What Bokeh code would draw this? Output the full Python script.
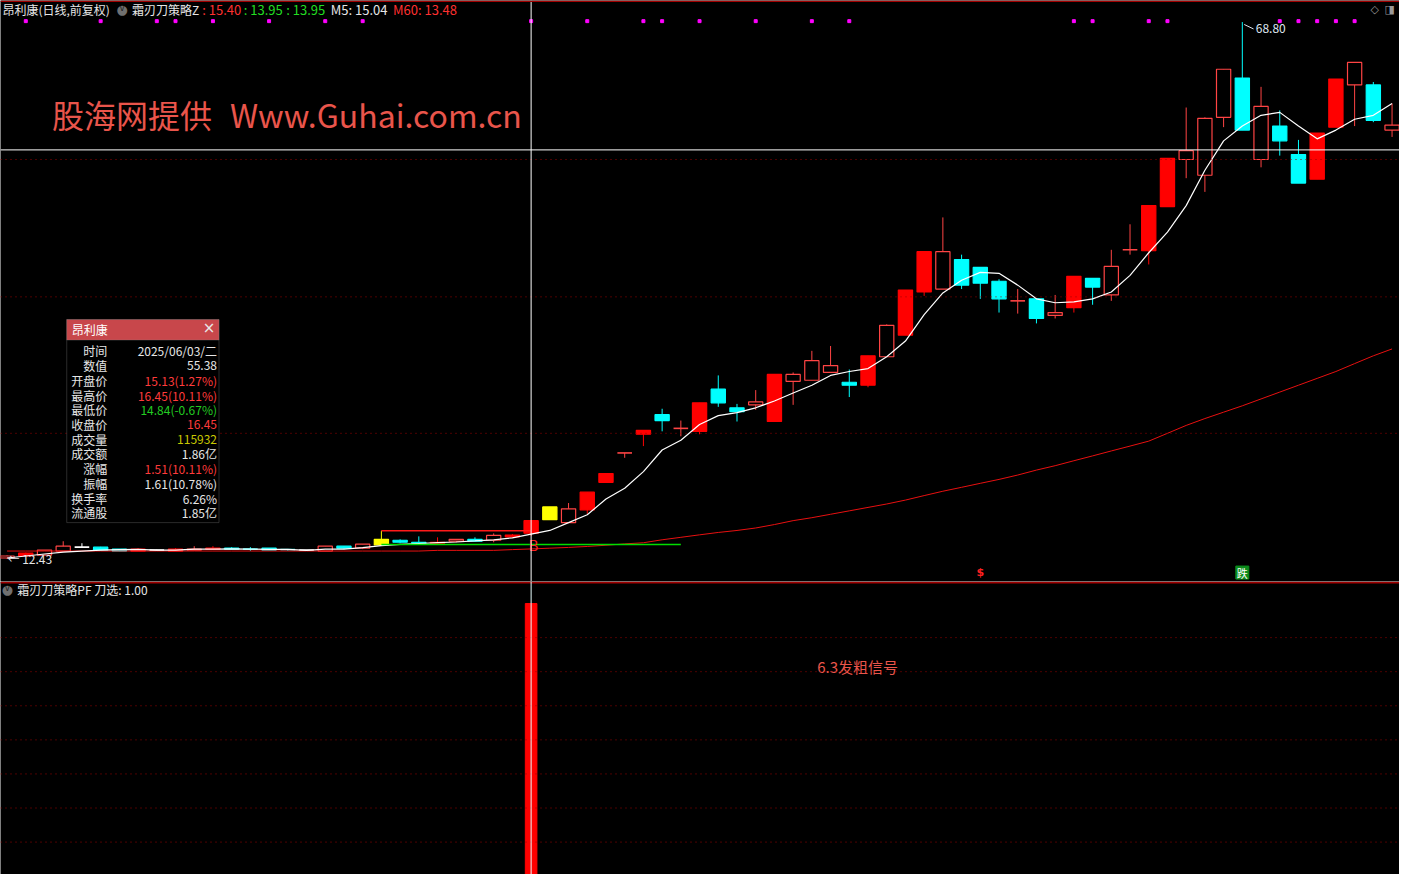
from bokeh.plotting import figure
from bokeh.models import Range1d, Span, Label, BoxAnnotation, ColumnDataSource
from bokeh.layouts import column
from bokeh.embed import file_html
from bokeh.resources import INLINE
from bokeh.core.properties import value

FONT = "Noto Sans CJK SC"

# ---------------- data ----------------
first_index = -2
kinds = ["H", "R", "H", "H", "W", "C", "C", "R", "W", "R",
         "H", "R", "C", "c", "C", "c", "W", "H", "C", "H",
         "Y", "C", "C", "R", "H", "C", "H", "R", "R", "Y",
         "H", "R", "R", "D", "R", "C", "D", "R", "C", "C",
         "H", "R", "H", "H", "H", "C", "R", "H", "R", "R",
         "H", "C", "C", "C", "D", "C", "H", "R", "C", "H",
         "D", "R", "R", "H", "H", "H", "C", "H", "C", "C",
         "R", "R", "H", "C", "H"]
opens = [12.53, 12.74, 12.84, 13.26, 13.67, 13.67, 13.46, 13.26, 13.36, 13.26,
         13.36, 13.46, 13.56, 13.47, 13.56, 13.42, 13.36, 13.26, 13.77, 13.56,
         13.90, 14.39, 14.18, 14.08, 14.29, 14.49, 14.39, 14.75, 15.13, 16.55,
         16.24, 17.58, 20.47, 23.56, 25.52, 27.58, 26.10, 25.83, 30.26, 28.30,
         28.61, 26.86, 31.08, 31.19, 32.01, 30.98, 30.67, 33.66, 35.93, 40.46,
         40.77, 43.86, 43.04, 41.59, 39.50, 39.74, 38.00, 38.81, 41.90, 40.15,
         44.87, 44.79, 49.43, 54.37, 52.72, 58.80, 62.93, 54.37, 57.88, 54.89,
         52.31, 57.77, 62.20, 62.20, 57.46]
highs = [12.80, 13.10, 13.36, 14.29, 14.08, 13.70, 13.46, 13.56, 13.40, 13.56,
         13.77, 13.77, 13.67, 13.67, 13.56, 13.46, 13.36, 13.77, 13.77, 13.98,
         15.40, 14.49, 14.80, 14.70, 14.49, 14.70, 15.11, 15.05, 16.45, 17.89,
         18.30, 19.44, 21.40, 23.56, 25.93, 28.20, 26.96, 28.82, 31.70, 28.71,
         30.16, 31.80, 32.01, 34.28, 34.79, 32.32, 33.76, 37.06, 40.67, 44.69,
         48.29, 44.38, 43.04, 41.80, 40.77, 39.74, 40.15, 42.11, 41.90, 44.89,
         47.57, 49.53, 54.48, 59.83, 58.80, 63.85, 68.80, 62.00, 59.53, 56.43,
         57.15, 62.82, 64.57, 62.51, 60.25]
lows = [12.43, 12.70, 12.84, 13.26, 13.67, 13.36, 13.26, 13.26, 13.33, 13.26,
        13.36, 13.46, 13.46, 13.26, 13.36, 13.26, 13.36, 13.26, 13.46, 13.46,
        13.87, 14.08, 14.08, 14.08, 14.18, 14.29, 14.18, 14.70, 14.84, 16.55,
        16.24, 17.17, 20.47, 23.05, 24.28, 25.83, 25.31, 25.52, 28.40, 26.86,
        28.09, 26.86, 28.61, 31.19, 32.01, 29.43, 30.46, 33.66, 35.93, 40.05,
        40.77, 40.77, 39.74, 38.30, 38.19, 37.16, 37.68, 38.30, 39.12, 39.53,
        44.38, 43.35, 49.43, 52.41, 50.97, 57.77, 57.46, 53.55, 54.78, 51.90,
        52.31, 57.77, 57.88, 58.29, 56.74]
closes = [12.74, 13.05, 13.36, 13.77, 13.67, 13.36, 13.26, 13.46, 13.36, 13.46,
          13.46, 13.56, 13.46, 13.45, 13.36, 13.40, 13.36, 13.77, 13.56, 13.98,
          14.49, 14.18, 14.08, 14.18, 14.49, 14.29, 14.90, 14.94, 16.45, 17.89,
          17.69, 19.44, 21.40, 23.56, 25.93, 26.96, 26.18, 28.82, 28.82, 27.89,
          28.92, 31.80, 31.80, 33.25, 32.73, 30.67, 33.76, 36.96, 40.67, 44.69,
          44.69, 41.18, 41.39, 39.74, 39.56, 37.68, 38.30, 42.11, 40.98, 43.14,
          44.91, 49.53, 54.48, 55.30, 58.70, 63.85, 57.46, 59.94, 56.33, 51.90,
          57.15, 62.82, 64.57, 58.49, 57.98]
ma5 = [12.53, 12.74, 12.95, 13.15, 13.26, 13.36, 13.41, 13.43, 13.36, 13.36,
       13.46, 13.46, 13.49, 13.46, 13.43, 13.43, 13.33, 13.46, 13.46, 13.62,
       13.82, 13.95, 14.05, 14.15, 14.21, 14.32, 14.44, 14.65, 15.04, 15.42,
       16.24, 17.07, 18.72, 19.85, 21.60, 23.87, 24.90, 26.55, 27.48, 27.79,
       28.30, 29.02, 29.85, 30.67, 31.70, 32.11, 32.42, 33.66, 35.31, 38.09,
       40.36, 41.70, 42.52, 42.42, 41.18, 39.74, 39.33, 39.43, 39.74, 40.46,
       42.21, 44.58, 46.75, 49.53, 53.24, 56.33, 57.88, 59.01, 59.32, 57.88,
       56.54, 57.46, 58.60, 59.01, 60.25]
ma60 = [13.26, 13.26, 13.26, 13.26, 13.26, 13.26, 13.26, 13.26, 13.26, 13.26,
        13.26, 13.26, 13.26, 13.26, 13.26, 13.26, 13.26, 13.26, 13.26, 13.26,
        13.26, 13.26, 13.26, 13.33, 13.33, 13.33, 13.33, 13.41, 13.48, 13.56,
        13.64, 13.74, 13.87, 14.01, 14.13, 14.44, 14.70, 14.96, 15.21, 15.42,
        15.68, 16.04, 16.45, 16.76, 17.12, 17.48, 17.84, 18.20, 18.61, 19.08,
        19.54, 19.95, 20.37, 20.78, 21.24, 21.76, 22.22, 22.74, 23.25, 23.77,
        24.28, 24.80, 25.62, 26.45, 27.17, 27.84, 28.51, 29.23, 29.95, 30.67,
        31.39, 32.11, 32.94, 33.76, 34.48]
signal_dots = [-1, 3, 6, 7, 9, 12, 15, 17, 26, 29, 32, 33, 35, 38, 41, 43,
               55, 56, 59, 60, 66, 67, 68, 69, 70]
level_red, level_red_from, level_red_to = 15.40, 18, 26
level_green, level_green_from, level_green_to = 13.95, 18, 34
cursor_index, cursor_price = 26, 55.38
high_mark_index, high_mark_value = 64, 68.80
low_mark_index, low_mark_value = -2, 12.43
dollar_index, fall_index = 50, 64
b_index = 26
price_grid = [25.62, 39.95, 54.37]
pf_index = [26]
pf_value = [1.00]
pf_grid = [0.125, 0.25, 0.375, 0.5, 0.625, 0.75, 0.875]

header_parts = [("昂利康(日线,前复权)", "#e6e6e6", "12px"), ("霜刃刀策略Z", "#e6e6e6", "12px"),
                (": 15.40", "#ff3030", "13px"), (": 13.95", "#22dd22", "13px"),
                (": 13.95", "#22dd22", "13px"), ("M5: 15.04", "#e6e6e6", "13px"),
                ("M60: 13.48", "#ff3030", "13px")]
header_x = [2, 133, 204, 246, 289, 334, 397]
info_labels = ["时间", "数值", "开盘价", "最高价", "最低价", "收盘价", "成交量",
               "成交额", "涨幅", "振幅", "换手率", "流通股"]
info_values = ["2025/06/03/二", "55.38", "15.13(1.27%)", "16.45(10.11%)",
               "14.84(-0.67%)", "16.45", "115932", "1.86亿", "1.51(10.11%)",
               "1.61(10.78%)", "6.26%", "1.85亿"]
info_colors = ["#e6e6e6", "#e6e6e6", "#ff3b3b", "#ff3b3b", "#22cc22", "#ff3b3b",
               "#c8c800", "#e6e6e6", "#ff3b3b", "#e6e6e6", "#e6e6e6", "#e6e6e6"]

# ---------------- geometry ----------------
W, H1, H2 = 1399, 581, 293
SX = W / 1415.0
SY1 = H1 / 592.0
SY2 = H2 / 298.0
def tx(x): return x * SX
def ty1(y): return H1 - y * SY1
def ty2(y): return H2 - (y - 592) * SY2

xr = Range1d(-2.351, 72.398)
p = figure(width=W, height=H1, x_range=xr, y_range=Range1d(10.061, 71.067),
           toolbar_location=None, output_backend="svg", x_axis_location=None,
           y_axis_location=None, background_fill_color="black",
           border_fill_color="black", min_border=0, outline_line_color=None)
p.grid.visible = False

for g in price_grid:
    p.add_layout(Span(location=g, dimension="width", line_color="#9a0000",
                      line_dash="1 4", line_width=1))

xs = [first_index + i for i in range(len(opens))]
col = {"R": "#ff0000", "H": "#ff4444", "C": "#00ffff", "Y": "#ffff00",
       "W": "#ffffff", "D": "#ff4444", "c": "#00ffff"}
fillc = {"R": "#ff0000", "H": "#000000", "C": "#00ffff", "Y": "#ffff00"}

# wicks
p.segment(x0=xs, y0=lows, x1=xs, y1=highs, line_color=[col[k] for k in kinds], line_width=1)

# bodies
bx, bt, bb, bf, bl = [], [], [], [], []
dx, dy, dc = [], [], []
for x, o, c, k in zip(xs, opens, closes, kinds):
    if k in fillc:
        bx.append(x); bt.append(max(o, c)); bb.append(min(o, c))
        bf.append(fillc[k]); bl.append(col[k])
    else:
        dx.append(x); dy.append((o + c) / 2); dc.append(col[k])
p.vbar(x=bx, top=bt, bottom=bb, width=0.76, fill_color=bf, line_color=bl, line_width=1.2)
p.segment(x0=[x - 0.39 for x in dx], y0=dy, x1=[x + 0.39 for x in dx], y1=dy,
          line_color=dc, line_width=1.6)

# moving averages
p.line(xs, ma60, line_color="#e81010", line_width=1)
p.line(xs, ma5, line_color="#ffffff", line_width=1.2)

# levels
p.segment(x0=[level_red_from], y0=[level_red], x1=[level_red_to], y1=[level_red],
          line_color="#ff1a1a", line_width=1.5)
p.segment(x0=[level_green_from], y0=[level_green], x1=[level_green_to], y1=[level_green],
          line_color="#00dd00", line_width=1.5)

# signal dots at top
p.scatter(x=signal_dots, y=[68.9] * len(signal_dots), marker="square", size=3,
          fill_color="#ff00ff", line_color="#ff00ff")

# B marker
p.text(x=[b_index + 0.12], y=[13.98], text=["B"], text_color="#ff2020",
       text_font=value(FONT), text_font_size="15px", text_align="center",
       text_baseline="middle")
# $ and 跌 markers
p.text(x=[dollar_index], y=[11.0], text=["$"], text_color="#ff2020",
       text_font=value("DejaVu Sans"), text_font_size="11px", text_font_style="bold",
       text_align="center", text_baseline="middle")
p.rect(x=[fall_index], y=[11.0], width=13, height=13, width_units="screen",
       height_units="screen", fill_color="#0c8c1c", line_color="#0c8c1c")
p.text(x=[fall_index], y=[11.0], text=["跌"], text_color="#ffffff",
       text_font=value(FONT), text_font_size="11px", text_align="center",
       text_baseline="middle")

# high / low annotations
p.segment(x0=[high_mark_index + 0.1], y0=[high_mark_value - 0.25],
          x1=[high_mark_index + 0.6], y1=[high_mark_value - 0.72],
          line_color="#dfe6f0", line_width=1)
p.text(x=[high_mark_index + 0.72], y=[high_mark_value - 0.72], text=["%.2f" % high_mark_value],
       text_color="#dfe6f0", text_font=value(FONT), text_font_size="12px",
       text_align="left", text_baseline="middle")
p.text(x=[low_mark_index + 0.02], y=[low_mark_value], text=["← %.2f" % low_mark_value],
       text_color="#e6e6e6", text_font=value(FONT), text_font_size="12px",
       text_align="left", text_baseline="middle")

# crosshair
p.add_layout(Span(location=cursor_index, dimension="height", line_color="#ffffff", line_width=1))
p.add_layout(Span(location=cursor_price, dimension="width", line_color="#ffffff", line_width=1))
p.add_layout(Span(location=71.0, dimension="width", line_color="#a00000", line_width=1.5))

# header
for (t, c, fs), x in zip(header_parts, header_x):
    p.add_layout(Label(x=tx(x), y=ty1(9), x_units="screen", y_units="screen", text=t,
                       text_color=c, text_font=FONT, text_font_size=fs,
                       text_baseline="middle", text_align="left"))
p.add_layout(Label(x=tx(123), y=ty1(9), x_units="screen", y_units="screen", text="●",
                   text_color="#707070", text_font="DejaVu Sans", text_font_size="13px",
                   text_baseline="middle", text_align="center"))
p.add_layout(Label(x=tx(123), y=ty1(8), x_units="screen", y_units="screen", text="v",
                   text_color="#202020", text_font="DejaVu Sans", text_font_size="8px",
                   text_baseline="middle", text_align="center"))
p.add_layout(Label(x=tx(1390), y=ty1(9), x_units="screen", y_units="screen", text="◇",
                   text_color="#9a9a9a", text_font="DejaVu Sans", text_font_size="11px",
                   text_baseline="middle", text_align="center"))
p.add_layout(Label(x=tx(1405), y=ty1(9), x_units="screen", y_units="screen", text="◨",
                   text_color="#9a9a9a", text_font="DejaVu Sans", text_font_size="11px",
                   text_baseline="middle", text_align="center"))

# watermark
p.add_layout(Label(x=tx(52), y=ty1(116), x_units="screen", y_units="screen", text="股海网提供",
                   text_color="#e9554b", text_font=FONT, text_font_size="32px",
                   text_baseline="middle", text_align="left"))
p.add_layout(Label(x=tx(232), y=ty1(116), x_units="screen", y_units="screen",
                   text="Www.Guhai.com.cn", text_color="#e9554b", text_font=FONT,
                   text_font_size="32px", text_baseline="middle", text_align="left"))

# info box
p.add_layout(BoxAnnotation(left=tx(67), right=tx(221), top=ty1(325), bottom=ty1(532),
                           left_units="screen", right_units="screen", top_units="screen",
                           bottom_units="screen", fill_color="#000000", fill_alpha=1.0,
                           line_color="#8a8a8a", line_width=1))
p.add_layout(BoxAnnotation(left=tx(67), right=tx(221), top=ty1(325), bottom=ty1(346),
                           left_units="screen", right_units="screen", top_units="screen",
                           bottom_units="screen", fill_color="#c8474b", fill_alpha=1.0,
                           line_color="#8a8a8a", line_width=1))
p.add_layout(Label(x=tx(72), y=ty1(335), x_units="screen", y_units="screen", text="昂利康",
                   text_color="#ffffff", text_font=FONT, text_font_size="12px",
                   text_baseline="middle", text_align="left"))
p.add_layout(Label(x=tx(211), y=ty1(334), x_units="screen", y_units="screen", text="×",
                   text_color="#e8e8e8", text_font="DejaVu Sans", text_font_size="15px",
                   text_baseline="middle", text_align="center"))
for i, (lab, val, c) in enumerate(zip(info_labels, info_values, info_colors)):
    yy = ty1(357 + 15 * i)
    p.add_layout(Label(x=tx(108), y=yy, x_units="screen", y_units="screen", text=lab,
                       text_color="#e6e6e6", text_font=FONT, text_font_size="12px",
                       text_baseline="middle", text_align="right"))
    p.add_layout(Label(x=tx(219), y=yy, x_units="screen", y_units="screen", text=val,
                       text_color=c, text_font=FONT, text_font_size="12px",
                       text_baseline="middle", text_align="right"))

# ---------------- bottom panel ----------------
q = figure(width=W, height=H2, x_range=xr, y_range=Range1d(0.0061, 1.0808),
           toolbar_location=None, output_backend="svg", x_axis_location=None,
           y_axis_location=None, background_fill_color="black",
           border_fill_color="black", min_border=0, outline_line_color=None)
q.grid.visible = False
for g in pf_grid:
    q.add_layout(Span(location=g, dimension="width", line_color="#9a0000",
                      line_dash="1 4", line_width=1))
q.add_layout(Span(location=1.0765, dimension="width", line_color="#a00000", line_width=1.6))
q.vbar(x=pf_index, top=pf_value, bottom=0, width=0.62, fill_color="#ff0000",
       line_color="#ff0000")
q.add_layout(Span(location=cursor_index, dimension="height", line_color="#e8ffff", line_width=1))
q.text(x=[43.45], y=[0.77], text=["6.3发粗信号"], text_color="#e9554b",
       text_font=value(FONT), text_font_size="15px", text_align="center",
       text_baseline="middle")
q.add_layout(Label(x=tx(7), y=ty2(600), x_units="screen", y_units="screen", text="●",
                   text_color="#707070", text_font="DejaVu Sans", text_font_size="13px",
                   text_baseline="middle", text_align="center"))
q.add_layout(Label(x=tx(7), y=ty2(599), x_units="screen", y_units="screen", text="v",
                   text_color="#202020", text_font="DejaVu Sans", text_font_size="8px",
                   text_baseline="middle", text_align="center"))
q.add_layout(Label(x=tx(17), y=ty2(600), x_units="screen", y_units="screen",
                   text="霜刃刀策略PF 刀选: 1.00", text_color="#e6e6e6", text_font=FONT,
                   text_font_size="12px", text_baseline="middle", text_align="left"))

layout = column(p, q, spacing=0)
open("out.html", "w").write(file_html(layout, INLINE))
